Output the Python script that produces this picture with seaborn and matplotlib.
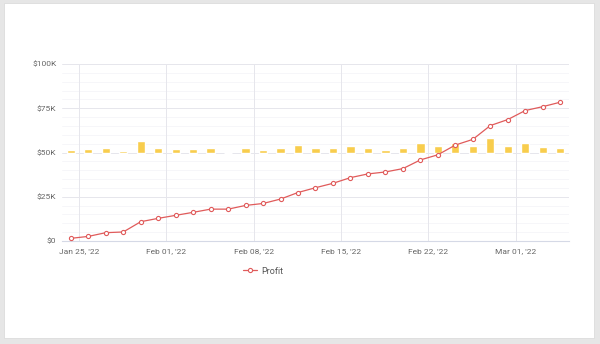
import matplotlib
matplotlib.use("Agg")
import matplotlib.pyplot as plt
from matplotlib.ticker import FuncFormatter
from matplotlib.patches import Rectangle
import seaborn as sns
import pandas as pd

# ---- data ----
start_date = "2022-01-24 08:00"
end_date = "2022-03-04 13:40"
profit = [1.5, 2.6, 4.7, 5.1, 10.9, 12.8, 14.5, 16.2, 18.0, 18.0,
          20.1, 21.2, 23.7, 27.4, 30.1, 32.6, 35.8, 37.9, 39.0, 40.9,
          45.8, 48.7, 54.2, 57.4, 65.2, 68.6, 73.7, 75.9, 78.4]  # $K
daily = [1.3, 1.7, 2.3, 0.9, 6.4, 2.3, 1.7, 1.7, 2.3, 0.0,
         2.6, 1.5, 2.6, 4.1, 2.6, 2.6, 3.8, 2.6, 1.3, 2.3,
         5.3, 3.4, 5.6, 3.4, 8.3, 3.4, 5.3, 3.0, 2.6]  # $K above base
bar_base = 50.0  # $K
tick_dates = ["2022-01-25", "2022-02-01", "2022-02-08", "2022-02-15", "2022-02-22", "2022-03-01"]
tick_labels = ["Jan 25, '22", "Feb 01, '22", "Feb 08, '22", "Feb 15, '22", "Feb 22, '22", "Mar 01, '22"]
y_ticks = [0, 25, 50, 75, 100]

dates = pd.date_range(start_date, end_date, periods=len(profit))
df = pd.DataFrame({"date": dates,
                   "profit": [p * 1000 for p in profit],
                   "daily": [d * 1000 for d in daily]})

sns.set_theme(style="white")
plt.rcParams["font.family"] = ["Roboto", "DejaVu Sans"]

fig = plt.figure(figsize=(6.0, 3.44), dpi=100)
fig.patch.set_facecolor("#e6e6e6")
fig.add_artist(Rectangle((4 / 600, 6 / 344), 590 / 600, 335 / 344,
                         transform=fig.transFigure, facecolor="white",
                         edgecolor="#dcdcdc", linewidth=0.6, zorder=0))

ax = fig.add_axes([62 / 600, 1 - 241 / 344, (569 - 62) / 600, (241 - 64) / 344])
ax.set_facecolor("white")

# grid
for v in range(0, 101, 5):
    if v % 25:
        ax.axhline(v * 1000, color="#f5f5f8", lw=0.6, zorder=0)
for v in y_ticks[1:]:
    ax.axhline(v * 1000, color="#e6e6ec", lw=0.7, zorder=0)
for t in tick_dates:
    ax.axvline(pd.Timestamp(t), color="#e6e6ec", lw=0.7, zorder=0)

ax.bar(df["date"], df["daily"], bottom=bar_base * 1000, width=0.67,
       color="#f8cd4d", zorder=2)

sns.lineplot(data=df, x="date", y="profit", ax=ax, color="#e05b5b", lw=0.9,
             marker="o", markersize=3.0, markerfacecolor="white",
             markeredgecolor="#e05b5b", markeredgewidth=0.8, zorder=3,
             label="Profit")

ax.set_xlim(pd.Timestamp(start_date) - pd.Timedelta(hours=17),
            pd.Timestamp(end_date) + pd.Timedelta(hours=17))
ax.set_ylim(0, 100000)
ax.set_yticks([v * 1000 for v in y_ticks])
ax.yaxis.set_major_formatter(FuncFormatter(lambda v, p: "$0" if v == 0 else f"${int(v/1000)}K"))
ax.set_xticks([pd.Timestamp(t) for t in tick_dates])
ax.set_xticklabels(tick_labels)
ax.tick_params(axis="both", labelsize=6, colors="#666666", length=0, pad=4)
ax.tick_params(axis="x", pad=5)
ax.set_xlabel("")
ax.set_ylabel("")
for s in ["top", "right", "left"]:
    ax.spines[s].set_visible(False)
ax.spines["bottom"].set_color("#d5d9e6")
ax.spines["bottom"].set_linewidth(0.8)

leg = ax.legend(loc="center", bbox_to_anchor=(263 / 600, 1 - 271 / 344),
                bbox_transform=fig.transFigure, frameon=False, fontsize=6.5,
                handlelength=1.6, handletextpad=0.4)
for t in leg.get_texts():
    t.set_color("#555555")

fig.savefig("out.png", dpi=100, facecolor=fig.get_facecolor())
